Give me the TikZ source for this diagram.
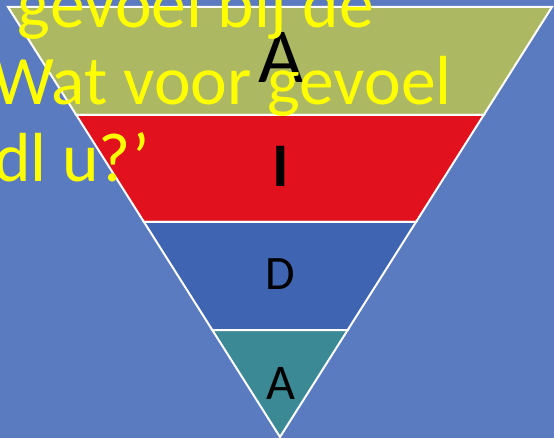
\documentclass[tikz,border=0pt]{standalone}
\usepackage{fontspec}
\setmainfont{Carlito}
\definecolor{bg}{HTML}{5A7BBF}
\definecolor{olive}{HTML}{ADB862}
\definecolor{redb}{HTML}{E1121D}
\definecolor{blueb}{HTML}{3F64B1}
\definecolor{tealb}{HTML}{3B8995}
\definecolor{yel}{HTML}{FFFF00}
\tikzset{
  band/.style={draw=white, line width=2pt, line join=miter},
  lbl/.style={anchor=base, inner sep=0pt, text=black},
  ytxt/.style={anchor=base east, inner sep=0pt, text=yel, font=\fontsize{69.5}{69.5}\selectfont}
}
\begin{document}
\begin{tikzpicture}[x=1pt,y=-1pt]
\useasboundingbox (0,0) rectangle (554,438);
\fill[bg] (0,0) rectangle (554,438);
\coordinate (L0) at (8,7);     \coordinate (R0) at (552,7);
\coordinate (L1) at (76.3,115); \coordinate (R1) at (483.7,115);
\coordinate (L2) at (144,222);  \coordinate (R2) at (416,222);
\coordinate (L3) at (212.3,330);\coordinate (R3) at (347.7,330);
\coordinate (T) at (280,437);
\path[band, fill=olive] (L0) -- (R0) -- (R1) -- (L1) -- cycle;
\path[band, fill=redb] (L1) -- (R1) -- (R2) -- (L2) -- cycle;
\path[band, fill=blueb] (L2) -- (R2) -- (R3) -- (L3) -- cycle;
\path[band, fill=tealb] (L3) -- (R3) -- (T) -- cycle;
\node[lbl, font=\fontsize{78}{78}\selectfont] (a1) at (281,83) {A};
\node[lbl, font=\bfseries\fontsize{62}{62}\selectfont] (i1) at (281,187) {I};
\node[lbl, font=\fontsize{48}{48}\selectfont] (d1) at (280,290) {D};
\node[lbl, font=\fontsize{50}{50}\selectfont] (a2) at (281,399) {A};
\begin{scope}
\clip (0,0) rectangle (554,438);
\node[ytxt] (y1) at (374,28) {gevoel bij de};
\node[ytxt] (y2) at (452,105) {Wat voor gevoel};
\node[ytxt] (y3) at (150,182) {dl u?’};
\end{scope}
\end{tikzpicture}
\end{document}
